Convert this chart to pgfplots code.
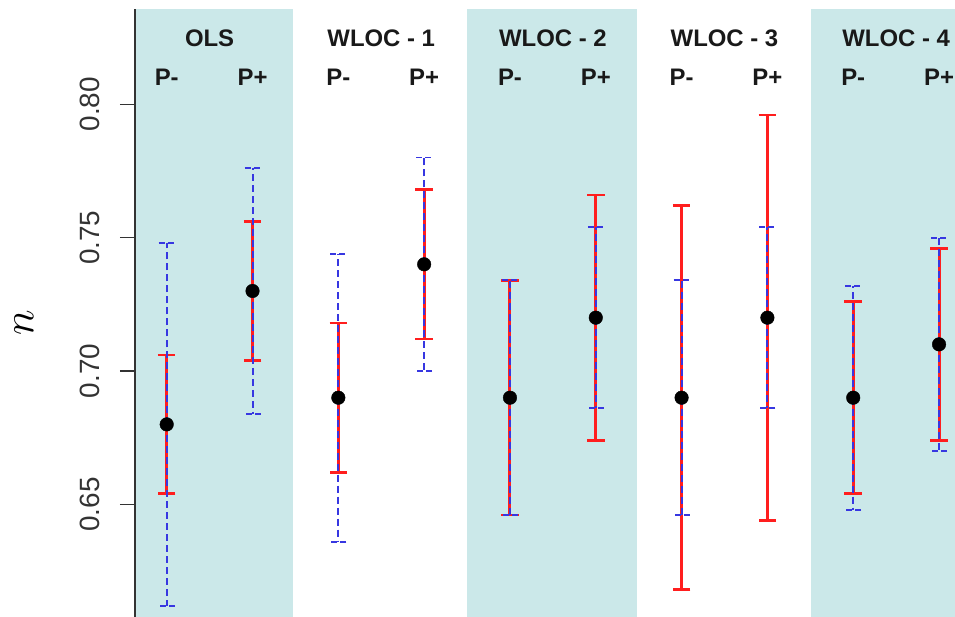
\RequirePackage{fix-cm}
\documentclass[border=0pt]{standalone}
\usepackage{fontspec}
\setmainfont{Liberation Sans}
\usepackage{graphicx}
\usepackage{pgfplots}
\pgfplotsset{compat=1.18}
\usepackage{pgfplotstable}
\definecolor{band}{RGB}{203,232,233}
\definecolor{cired}{RGB}{255,30,30}
\definecolor{ciblue}{RGB}{55,55,225}
\newsavebox\ytlbox
\newcommand\ytl[1]{\sbox\ytlbox{\rotatebox{90}{#1}}\usebox\ytlbox\hspace{20bp}\textcolor{black!80}{\rule[\dimexpr0.5\ht\ytlbox-0.65bp\relax]{15bp}{1.3bp}}}

\pgfplotstableread{
x y rlo rhi blo bhi
1 0.680 0.654 0.706 0.612 0.748
2 0.730 0.704 0.756 0.684 0.776
3 0.690 0.662 0.718 0.636 0.744
4 0.740 0.712 0.768 0.700 0.780
5 0.690 0.646 0.734 0.646 0.734
6 0.720 0.674 0.766 0.686 0.754
7 0.690 0.618 0.762 0.646 0.734
8 0.720 0.644 0.796 0.686 0.754
9 0.690 0.654 0.726 0.648 0.732
10 0.710 0.674 0.746 0.670 0.750
}\cidata

\begin{document}
\begin{tikzpicture}
\begin{axis}[
  scale only axis, width=820bp, height=608bp,
  xmin=0.6305, xmax=10.186, ymin=0.6078, ymax=0.8357,
  axis line style={draw=none},
  xtick=\empty,
  ytick={0.65,0.70,0.75,0.80},
  ytick pos=left,
  major tick length=0pt,
  yticklabel={\ytl{\pgfmathprintnumber[fixed,fixed zerofill,precision=2,assume math mode=true]{\tick}}},
  yticklabel style={anchor=east, inner sep=0pt, outer sep=0pt,
    font=\fontsize{28}{28}\selectfont, text=black!80},
  ylabel={$n$},
  ylabel style={at={(axis description cs:0,0.5)}, anchor=center, yshift=111bp, xshift=-10bp,
    font=\fontsize{44}{44}\selectfont},
  clip=false,
]
\addplot[fill=band, draw=none, forget plot] coordinates {(0.6305,0.6078) (2.475,0.6078) (2.475,0.8357) (0.6305,0.8357)};
\addplot[fill=band, draw=none, forget plot] coordinates {(4.497,0.6078) (6.485,0.6078) (6.485,0.8357) (4.497,0.8357)};
\addplot[fill=band, draw=none, forget plot] coordinates {(8.51,0.6078) (10.186,0.6078) (10.186,0.8357) (8.51,0.8357)};
% left axis line
\addplot[black!80, line width=1.3bp, forget plot] coordinates {(0.6305,0.6078) (0.6305,0.8357)};

\addplot[only marks, mark=none, forget plot,
  error bars/.cd, y dir=both, y explicit,
  error bar style={cired, line width=3bp, solid},
  error mark options={rotate=90, cired, line width=2.6bp, mark size=8.75bp, solid}]
  table[x=x, y=y, y error plus expr=\thisrow{rhi}-\thisrow{y}, y error minus expr=\thisrow{y}-\thisrow{rlo}] {\cidata};

\addplot[only marks, mark=none, forget plot,
  error bars/.cd, y dir=both, y explicit,
  error bar style={ciblue, line width=2bp, dash pattern=on 7bp off 4bp},
  error mark options={rotate=90, ciblue, line width=1.8bp, mark size=8bp, dash pattern=on 6bp off 3bp}]
  table[x=x, y=y, y error plus expr=\thisrow{bhi}-\thisrow{y}, y error minus expr=\thisrow{y}-\thisrow{blo}] {\cidata};

\addplot[only marks, mark=*, mark size=6.8bp, black, forget plot] table[x=x, y=y] {\cidata};

\begin{scope}[every node/.style={font=\bfseries\fontsize{24}{24}\selectfont, text=black!90, anchor=base, inner sep=0pt}]
\node at (axis cs:1.5,0.8216) {OLS};
\node at (axis cs:3.5,0.8216) {WLOC - 1};
\node at (axis cs:5.5,0.8216) {WLOC - 2};
\node at (axis cs:7.5,0.8216) {WLOC - 3};
\node at (axis cs:9.5,0.8216) {WLOC - 4};
\node at (axis cs:1,0.8069) {P-};
\node at (axis cs:2,0.8069) {P+};
\node at (axis cs:3,0.8069) {P-};
\node at (axis cs:4,0.8069) {P+};
\node at (axis cs:5,0.8069) {P-};
\node at (axis cs:6,0.8069) {P+};
\node at (axis cs:7,0.8069) {P-};
\node at (axis cs:8,0.8069) {P+};
\node at (axis cs:9,0.8069) {P-};
\node at (axis cs:10,0.8069) {P+};
\end{scope}
\coordinate (bl) at (rel axis cs:0,0);
\coordinate (tr) at (rel axis cs:1,1);
\end{axis}
\pgfresetboundingbox
\path ([xshift=-135bp]bl) rectangle ([yshift=9bp]tr);
\end{tikzpicture}
\end{document}
